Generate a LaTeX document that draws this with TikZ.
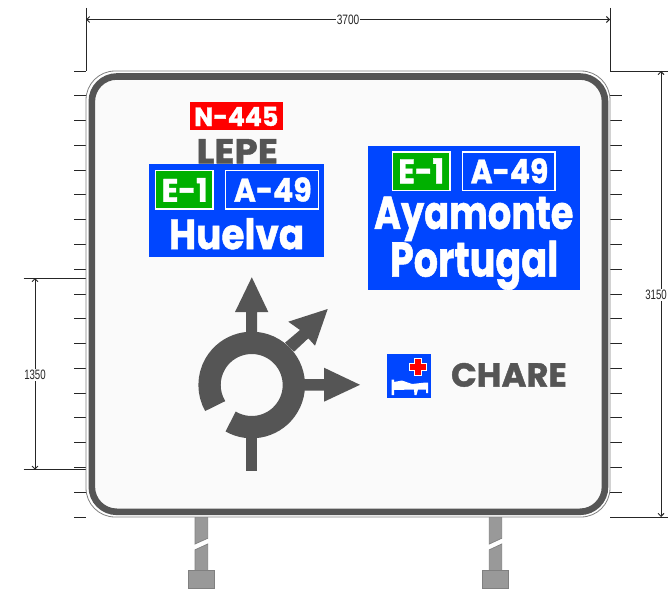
\documentclass[tikz,border=0pt]{standalone}
\usepackage{fontspec}
\usepackage{graphicx}
\usetikzlibrary{arrows.meta}
\setmainfont{Poppins}
\newfontfamily\dimfont{Liberation Sans}
\newcommand{\fitT}[3]{\resizebox{#1pt}{#2pt}{\bfseries\addfontfeatures{FakeBold=1.2}#3}}
\newcommand{\fitD}[3]{\resizebox{#1pt}{#2pt}{\dimfont #3}}
\definecolor{signblue}{HTML}{0046FF}
\definecolor{signgreen}{HTML}{00B000}
\definecolor{signred}{HTML}{FF0000}
\definecolor{signdark}{HTML}{555555}
\definecolor{signpanel}{HTML}{FAFAFA}
\definecolor{postgray}{HTML}{999999}
\definecolor{postedge}{HTML}{808080}
\tikzset{
  signtxt/.style={inner sep=0pt,outer sep=0pt,text=white},
  darktxt/.style={inner sep=0pt,outer sep=0pt,text=signdark},
  routeblue/.style={fill=signblue,draw=white,line width=1.2pt},
  routegreen/.style={fill=signgreen,draw=white,line width=1.2pt},
  dimline/.style={line width=0.9pt,draw=black!85},
  dimarrow/.style={line width=0.9pt,draw=black!85,{Straight Barb[length=3pt,width=6pt]}-{Straight Barb[length=3pt,width=6pt]}},
  dimlabel/.style={fill=white,inner sep=1pt,outer sep=0pt,text=black!85},
  tick/.style={line width=0.9pt,draw=black!85},
  symb/.style={fill=signdark,draw=none},
  postpart/.style={fill=postgray,draw=postedge,line width=0.7pt},
}
\begin{document}
\begin{tikzpicture}[x=1pt,y=-1pt]
\useasboundingbox (0,0) rectangle (668,591);
\fill[white] (0,0) rectangle (668,591);

% posts
\foreach \xa/\xb/\ba/\bb/\n in {195/207.7/188/214.3/L,489.3/501.7/482.3/508/R}{
  \draw[postpart] (\xa,517) -- (\xb,517) -- (\xb,538.3) -- (\xa,544) -- cycle;
  \draw[postpart] (\xa,549.8) -- (\xb,544) -- (\xb,571) -- (\xa,571) -- cycle;
  \draw[postpart] (\ba,570.7) rectangle (\bb,588.3);
}

% extension lines and ticks
\coordinate (tl) at (86,71);
\coordinate (tr) at (610,71);
\coordinate (bl) at (86,517);
\coordinate (br) at (610,517);
\foreach \k in {0,...,18}{
  \draw[tick] (74,{71+24.78*\k}) -- (86,{71+24.78*\k});
  \ifnum\k>0 \draw[tick] (610,{71+24.78*\k}) -- (622,{71+24.78*\k}); \fi
}
\coordinate (dta) at (86,19.5);
\coordinate (dtb) at (610,19.5);
\draw[dimline] (86,8) -- (tl);
\draw[dimline] (610,8) -- (tr);
\draw[dimarrow] (dta) -- node[dimlabel] (l3700) {\fitD{22.5}{9.5}{3700}} (dtb);

\coordinate (rt) at (661,71);
\coordinate (rb) at (661,517);
\draw[dimline] (tr) -- (668,71);
\draw[dimline] (br) -- (668,517);
\draw[dimarrow] (rt) -- (rb);
\node[dimlabel] (l3150) at (656,295) {\fitD{21.5}{9.5}{3150}};

\coordinate (la) at (35,278);
\coordinate (lb) at (35,469.7);
\draw[dimline] (23.5,278) -- (86,278);
\draw[dimline] (23.5,469.7) -- (86,469.7);
\draw[dimarrow] (la) -- node[dimlabel,pos=0.505] (l1350) {\fitD{21.5}{9.5}{1350}} (lb);

% sign board
\draw[line width=0.8pt,draw=black!50,fill=white,rounded corners=29pt] (86,71) rectangle (610,517);
\draw[line width=6.6pt,draw=signdark,fill=signpanel,rounded corners=25pt] (91.8,76.5) rectangle (605,511.8);

% left block
\fill[signred] (190,102) rectangle (283,130);
\node[signtxt] (n445) at (236.3,116.4) {\fitT{84}{19.3}{N-445}};
\node[darktxt] (lepe) at (237.3,151.2) {\fitT{81.3}{24.3}{LEPE}};
\fill[signblue] (149,164) rectangle (324.3,256.8);
\draw[routegreen] (155.5,170.5) rectangle (213,209);
\node[signtxt] (e1a) at (184.7,189.9) {\fitT{46}{23.7}{E-1}};
\draw[routeblue] (225.5,170.5) rectangle (318.5,209);
\node[signtxt] (a49a) at (272.8,189.5) {\fitT{77.7}{24.4}{A-49}};
\node[signtxt] (huelva) at (236.6,233.8) {\fitT{135.3}{31}{Huelva}};

% right block
\fill[signblue] (367.7,145.7) rectangle (580,290);
\draw[routegreen] (392.5,152) rectangle (450,190.3);
\node[signtxt] (e1b) at (421.2,170.8) {\fitT{45.7}{25}{E-1}};
\draw[routeblue] (462.5,152) rectangle (555,190.3);
\node[signtxt] (a49b) at (509.5,170.8) {\fitT{77.6}{25}{A-49}};
\node[signtxt] (ayamonte) at (473.7,218.8) {\fitT{199.3}{32.3}{Ayamonte}};
\node[signtxt] (portugal) at (474.2,265.3) {\fitT{168.3}{36}{Portugal}};

% roundabout symbol
\coordinate (c) at (251.7,385);
\draw[signdark,line width=22.3pt] ([shift={(-240:42.15)}]c) arc[start angle=-240,end angle=-570,radius=42.15];
\fill[symb] (246.2,340) -- (246.2,312) -- (235,312) -- (251.8,277.3) -- (268.3,312) -- (257.2,312) -- (257.2,340) -- cycle;
\fill[symb] (246.2,430) rectangle (257.2,470.7);
\fill[symb] (300,379.2) -- (324,379.2) -- (324,367.7) -- (360,384.8) -- (324,401.7) -- (324,390.7) -- (300,390.7) -- cycle;
\fill[symb] (285,342.7) -- (300,330) -- (288.3,321.7) -- (327.7,309) -- (315,345.7) -- (308.3,338.3) -- (294,351.7) -- cycle;

% hospital panel
\fill[signblue] (387.3,354) rectangle (431,397.7);
\fill[signred,draw=white,line width=0.5pt]
  (414.5,358.3) -- (420.8,358.3) -- (420.8,363.6) -- (426.5,363.6) -- (426.5,369.8) -- (420.8,369.8) -- (420.8,375) -- (414.5,375) -- (414.5,369.8) -- (409,369.8) -- (409,363.6) -- (414.5,363.6) -- cycle;
\fill[white] (391.5,379.5) -- (394,379.5) -- (394,382) -- (402,380.5) -- (412,384) -- (425.5,382.5) -- (428,382.5) -- (428,393) -- (426,393) -- (426,389.5) -- (418,389.5) -- (416.5,395) -- (414.5,395) -- (414,389.5) -- (394,390) -- (394,395) -- (391.5,395) -- cycle;
\node[darktxt] (chare) at (508.9,374.9) {\fitT{115.7}{23.7}{CHARE}};
\end{tikzpicture}
\end{document}
